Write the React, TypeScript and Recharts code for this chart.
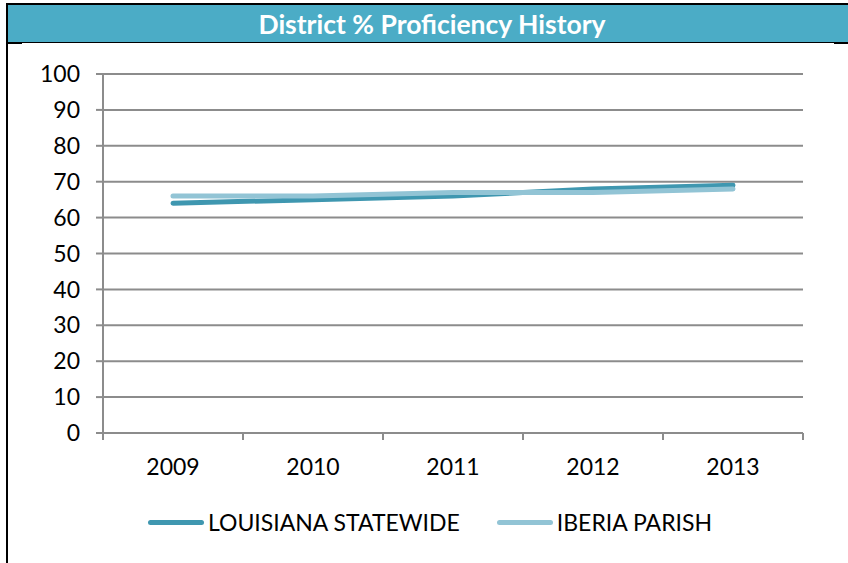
import React from 'react';
import { LineChart, Line, XAxis, YAxis, CartesianGrid } from 'recharts';

const years = [2009, 2010, 2011, 2012, 2013];
const statewide = [64, 65, 66, 68, 69];
const iberia = [66, 66, 67, 67, 68];
const yTicks = [0, 10, 20, 30, 40, 50, 60, 70, 80, 90, 100];
const xTicks = [2008.5, 2009, 2009.5, 2010, 2010.5, 2011, 2011.5, 2012, 2012.5, 2013, 2013.5];

const series = [
  { key: 'statewide', name: 'LOUISIANA STATEWIDE', color: '#3f97b0' },
  { key: 'iberia', name: 'IBERIA PARISH', color: '#92c4d5' },
];

const data = years.map((year, i) => ({
  year,
  statewide: statewide[i],
  iberia: iberia[i],
}));

const FONT = 'Lato, "Open Sans", sans-serif';
const GRID = '#8c8c8c';

// labels sit on the whole years, tick marks on the half years (band edges)
function XTick(props: any) {
  const { x, y, payload } = props;
  const v = payload.value;
  if (Number.isInteger(v)) {
    return (
      <text x={x} y={y + 34} textAnchor="middle" fontSize={23} fontFamily={FONT} fill="#000">
        {v}
      </text>
    );
  }
  return <line x1={x} x2={x} y1={y - 8} y2={y - 1} stroke={GRID} strokeWidth={2} />;
}

export default function App() {
  return (
    <div style={{ position: 'relative', width: 848, height: 563, background: '#fff', overflow: 'hidden' }}>
      <style>{`body{margin:0}`}</style>
      <div style={{ position: 'absolute', left: 6, top: 3, width: 2, height: 560, background: '#000' }} />
      <div style={{ position: 'absolute', left: 6, top: 3, width: 842, height: 2, background: '#000' }} />
      <div
        style={{
          position: 'absolute',
          left: 8,
          top: 5,
          width: 840,
          height: 37,
          background: '#4bacc6',
          color: '#fff',
          fontFamily: FONT,
          fontWeight: 700,
          fontSize: 26.5,
          lineHeight: '38px',
          textAlign: 'center',
          paddingLeft: 8,
          boxSizing: 'border-box',
        }}
      >
        District % Proficiency History
      </div>
      <div style={{ position: 'absolute', left: 8, top: 42, width: 840, height: 1, background: '#000' }} />
      <div style={{ position: 'absolute', left: 6, top: 42, width: 16, height: 2, background: '#000' }} />
      <div style={{ position: 'absolute', left: 834, top: 42, width: 14, height: 2, background: '#000' }} />

      <div style={{ position: 'absolute', left: 0, top: 43 }}>
        <LineChart width={848} height={520} data={data} margin={{ top: 31, right: 45, left: 0, bottom: 70 }}>
          <CartesianGrid vertical={false} stroke={GRID} strokeWidth={2} />
          <XAxis
            dataKey="year"
            type="number"
            domain={[2008.5, 2013.5]}
            ticks={xTicks}
            interval={0}
            height={60}
            axisLine={{ stroke: GRID, strokeWidth: 2 }}
            tickLine={false}
            tick={<XTick />}
          />
          <YAxis
            domain={[0, 100]}
            ticks={yTicks}
            interval={0}
            width={103}
            tickSize={7}
            tickMargin={16}
            axisLine={{ stroke: GRID, strokeWidth: 2 }}
            tickLine={{ stroke: GRID, strokeWidth: 2 }}
            tick={{ fontSize: 23, fontFamily: FONT, fill: '#000' }}
          />
          {series.map((s) => (
            <Line
              key={s.key}
              dataKey={s.key}
              name={s.name}
              type="linear"
              stroke={s.color}
              strokeWidth={5}
              strokeLinecap="round"
              dot={false}
              activeDot={false}
              isAnimationActive={false}
            />
          ))}
        </LineChart>
      </div>

      <div
        style={{
          position: 'absolute',
          left: 0,
          top: 508,
          width: 860,
          display: 'flex',
          justifyContent: 'center',
          alignItems: 'center',
          fontFamily: FONT,
          fontSize: 23,
          color: '#000',
        }}
      >
        {series.map((s, i) => (
          <div key={s.key} style={{ display: 'flex', alignItems: 'center', marginLeft: i ? 37 : 0 }}>
            <span style={{ display: 'inline-block', width: 56, height: 5, borderRadius: 3, background: s.color, marginRight: 4 }} />
            <span>{s.name}</span>
          </div>
        ))}
      </div>
    </div>
  );
}
